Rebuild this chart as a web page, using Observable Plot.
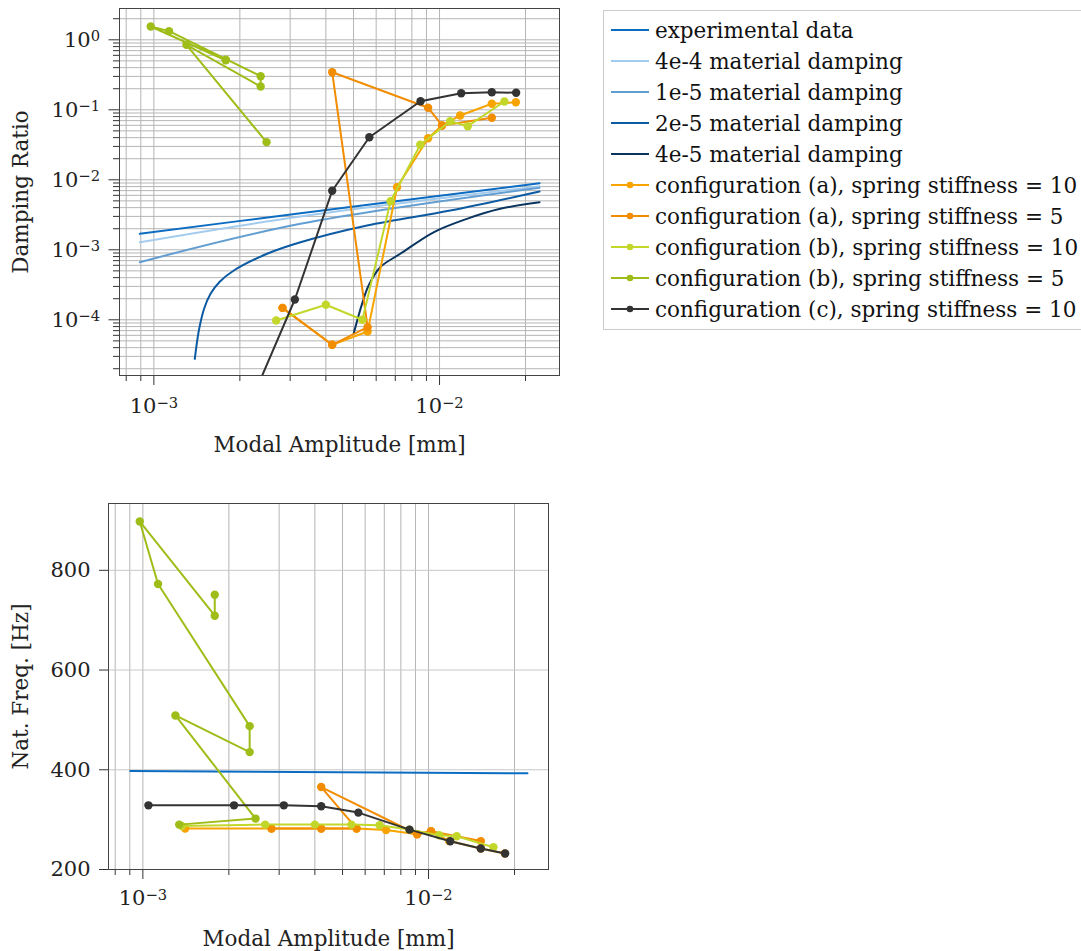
<!DOCTYPE html>
<html><head><meta charset="utf-8">
<script src="https://cdn.jsdelivr.net/npm/d3@7"></script>
<script src="https://cdn.jsdelivr.net/npm/@observablehq/plot@0.6"></script>
<style>
html,body{margin:0;padding:0;background:#fff;overflow:hidden;width:1081px;height:951px;}
#top{position:absolute;left:0;top:0;}
#bottom{position:absolute;left:0;top:470px;}
#legend{position:absolute;left:0;top:0;}
</style></head><body>
<div id="top"></div><div id="bottom"></div><div id="legend"></div>
<script>
// ---------------- data ----------------
// material damping curves (damping ratio vs modal amplitude [mm])
const expAmp   = [8.93e-4, 3.26e-3, 0.0224];
const expDamp  = [1.69e-3, 3.33e-3, 8.94e-3];
const m4e4Amp  = [8.93e-4, 3.26e-3, 0.0224];
const m4e4Damp = [1.28e-3, 2.99e-3, 8.10e-3];
const m1e5Amp  = [8.93e-4, 3.26e-3, 0.0224];
const m1e5Damp = [6.65e-4, 2.35e-3, 7.69e-3];
const m2e5Amp  = [1.391e-3, 1.437e-3, 1.50e-3, 1.579e-3, 1.70e-3, 1.905e-3, 2.491e-3, 3.26e-3, 5.574e-3, 0.0109, 0.0224];
const m2e5Damp = [2.77e-5, 7.03e-5, 1.45e-4, 2.35e-4, 3.5e-4, 5.06e-4, 8.77e-4, 1.28e-3, 2.22e-3, 3.64e-3, 6.81e-3];
const m4e5Amp  = [5.003e-3, 5.355e-3, 5.646e-3, 6.20e-3, 7.29e-3, 9.53e-3, 0.01247, 0.0163, 0.0224];
const m4e5Damp = [6.31e-5, 1.69e-4, 3.09e-4, 5.64e-4, 8.77e-4, 1.78e-3, 2.77e-3, 3.85e-3, 4.79e-3];
// experimental natural frequency
const expFreqAmp = [9.03e-4, 0.0222];
const expFreq    = [397.4, 392.8];

// configuration (a), spring stiffness = 10
const a10Amp  = [1.406e-3, 2.82e-3, 4.21e-3, 5.60e-3, 7.10e-3, 9.12e-3, 0.0102, 0.01181, 0.01524, 0.0185];
const a10Damp = [null, 1.48e-4, 4.39e-5, 6.8e-5, 7.84e-3, 0.0393, 0.0597, 0.0829, 0.122, 0.128];
const a10Freq = [282, 282, 282, 282, 279.3, 270.7, 276.7, 257, 242, 232];
// configuration (a), spring stiffness = 5
const a5Amp  = [2.82e-3, 4.21e-3, 5.60e-3, 4.21e-3, 9.12e-3, 0.0102, 0.01524];
const a5Damp = [1.48e-4, 4.39e-5, 7.84e-5, 0.344, 0.107, 0.0597, 0.0768];
const a5Freq = [282, 282, 282, 365.4, 270.7, 276.7, 257];
// configuration (b), spring stiffness = 10
const b10Amp  = [1.369e-3, 2.68e-3, 4.0e-3, 5.37e-3, 6.74e-3, 8.56e-3, 0.0109, 0.01255, 0.01687];
const b10Damp = [null, 9.77e-5, 1.64e-4, 1.0e-4, 4.94e-3, 0.0316, 0.0687, 0.0583, 0.1315];
const b10Freq = [287.3, 290, 290, 290, 288.7, 280, 268.7, 266.7, 244.6];
// configuration (b), spring stiffness = 5
const b5Amp  = [1.785e-3, 1.785e-3, 9.75e-4, 1.13e-3, 2.365e-3, 2.365e-3, 1.30e-3, 2.48e-3, 1.34e-3];
const b5Damp = [0.52, 0.51, 1.55, 1.33, 0.302, 0.215, 0.848, 0.0345, null];
const b5Freq = [751, 709, 898, 772.6, 487.5, 435.4, 508.9, 302.1, 290];
// configuration (c), spring stiffness = 10
const cAmp  = [1.046e-3, 2.085e-3, 3.115e-3, 4.21e-3, 5.678e-3, 8.58e-3, 0.01191, 0.01524, 0.01854];
const cDamp = [null, 4.3e-6, 1.95e-4, 6.97e-3, 0.0406, 0.1327, 0.1726, 0.1783, 0.175];
const cFreq = [328.7, 328.7, 328.7, 326.7, 314.1, 280, 256.7, 242, 232];

// tick labels
const xMajorTicks = [1e-3, 1e-2];
const yTopMajorTicks = [1e-4, 1e-3, 1e-2, 1e-1, 1];
const yBottomTicks = [200, 400, 600, 800];

const legendNames = ["experimental data", "4e-4 material damping", "1e-5 material damping",
  "2e-5 material damping", "4e-5 material damping",
  "configuration (a), spring stiffness = 10", "configuration (a), spring stiffness = 5",
  "configuration (b), spring stiffness = 10", "configuration (b), spring stiffness = 5",
  "configuration (c), spring stiffness = 10"];
const legendColors = ["#0c6cc2", "#a3cbee", "#639ed2", "#0c5aa2", "#0a3561",
  "#f7a400", "#f28c00", "#c3d72b", "#9fbd18", "#333333"];
const legendMarker = [false, false, false, false, false, true, true, true, true, true];

// ---------------- helpers ----------------
const zip = (xs, ys) => xs.map((x, i) => ({x, y: ys[i]}));
function minorTicks(lo, hi) {
  const out = [];
  for (let e = Math.floor(Math.log10(lo)); e <= Math.ceil(Math.log10(hi)); e++)
    for (let k = 1; k <= 9; k++) { const v = k * Math.pow(10, e); if (v >= lo && v <= hi) out.push(v); }
  return out;
}
const xDomain = [7.58e-4, 0.0263];
const yTopDomain = [1.6e-5, 2.8];
const xAll = minorTicks(xDomain[0], xDomain[1]);
const xMinor = xAll.filter(v => !xMajorTicks.some(m => Math.abs(m - v) / m < 1e-9));
const yAll = minorTicks(yTopDomain[0], yTopDomain[1]);
const yMinor = yAll.filter(v => !yTopMajorTicks.some(m => Math.abs(m - v) / m < 1e-9));
const fmtLog = d => "10^" + Math.round(Math.log10(d));
const FONT = "DejaVu Serif";
const gridColor = "#b5b5b5";
const LABEL_SIZE = "21.5px";
const TICK_SIZE = "21px";

function seriesMarks(data, color, withDots, clip, curve = "linear") {
  const marks = [Plot.line(data, {x: "x", y: "y", stroke: color, strokeWidth: 2, clip, curve})];
  if (withDots) marks.push(Plot.dot(data, {x: "x", y: "y", fill: color, r: 4.2, clip}));
  return marks;
}

function postProcess(svg, labels) {
  const ns = "http://www.w3.org/2000/svg";
  svg.querySelectorAll("text").forEach(t => {
    const m = /^10\^(-?\d+)$/.exec(t.textContent);
    if (m) {
      t.textContent = "";
      const a = document.createElementNS(ns, "tspan"); a.textContent = "10";
      const b = document.createElementNS(ns, "tspan"); b.textContent = m[1].replace("-", "\u2212");
      b.setAttribute("dy", "-0.4em"); b.setAttribute("font-size", "0.7em");
      t.append(a, b);
    } else if (labels.includes(t.textContent)) {
      t.setAttribute("font-size", LABEL_SIZE);
      t.style.fontSize = LABEL_SIZE;
    }
  });
}

// ---------------- top plot ----------------
const topPlot = Plot.plot({
  width: 570, height: 465,
  marginLeft: 119, marginRight: 11, marginTop: 8, marginBottom: 90,
  style: {fontFamily: FONT, fontSize: TICK_SIZE, color: "#222", background: "transparent"},
  x: {type: "log", domain: xDomain},
  y: {type: "log", domain: yTopDomain},
  marks: [
    Plot.gridX(xAll, {stroke: gridColor, strokeOpacity: 1}),
    Plot.gridY(yAll, {stroke: gridColor, strokeOpacity: 1}),
    Plot.axisX(xMinor, {tickSize: 6, tickFormat: () => "", label: null, stroke: "#333"}),
    Plot.axisX(xMajorTicks, {tickSize: 10, tickPadding: 13, tickFormat: fmtLog, stroke: "#333",
      label: "Modal Amplitude [mm]", labelAnchor: "center", labelOffset: 76, labelArrow: "none"}),
    Plot.axisY(yMinor, {tickSize: 6, tickFormat: () => "", label: null, stroke: "#333"}),
    Plot.axisY(yTopMajorTicks, {tickSize: 10.5, tickPadding: 9, tickFormat: fmtLog, stroke: "#333",
      label: "Damping Ratio", labelAnchor: "center", labelOffset: 107, labelArrow: "none"}),
    ...seriesMarks(zip(expAmp, expDamp), legendColors[0], false, true, "catmull-rom"),
    ...seriesMarks(zip(m4e4Amp, m4e4Damp), legendColors[1], false, true, "catmull-rom"),
    ...seriesMarks(zip(m1e5Amp, m1e5Damp), legendColors[2], false, true, "catmull-rom"),
    ...seriesMarks(zip(m2e5Amp, m2e5Damp), legendColors[3], false, true, "catmull-rom"),
    ...seriesMarks(zip(m4e5Amp, m4e5Damp), legendColors[4], false, true, "catmull-rom"),
    ...seriesMarks(zip(a10Amp, a10Damp), legendColors[5], true, true),
    ...seriesMarks(zip(a5Amp, a5Damp), legendColors[6], true, true),
    ...seriesMarks(zip(b10Amp, b10Damp), legendColors[7], true, true),
    ...seriesMarks(zip(b5Amp, b5Damp), legendColors[8], true, true),
    ...seriesMarks(zip(cAmp, cDamp), legendColors[9], true, true),
    Plot.frame({stroke: "#444", strokeWidth: 1})
  ]
});
postProcess(topPlot, ["Modal Amplitude [mm]", "Damping Ratio"]);
document.getElementById("top").append(topPlot);

// ---------------- bottom plot ----------------
const bottomPlot = Plot.plot({
  width: 560, height: 481,
  marginLeft: 108, marginRight: 12, marginTop: 33, marginBottom: 82,
  style: {fontFamily: FONT, fontSize: TICK_SIZE, color: "#222", background: "transparent"},
  x: {type: "log", domain: xDomain},
  y: {domain: [200, 934]},
  marks: [
    Plot.gridX(xAll, {stroke: gridColor, strokeOpacity: 1}),
    Plot.gridY(yBottomTicks, {stroke: "#c8c8c8", strokeOpacity: 1}),
    Plot.axisX(xMinor, {tickSize: 6, tickFormat: () => "", label: null, stroke: "#333"}),
    Plot.axisX(xMajorTicks, {tickSize: 10, tickPadding: 11, tickFormat: fmtLog, stroke: "#333",
      label: "Modal Amplitude [mm]", labelAnchor: "center", labelOffset: 76, labelArrow: "none"}),
    Plot.axisY(yBottomTicks, {tickSize: 9, tickPadding: 9, stroke: "#333",
      label: "Nat. Freq. [Hz]", labelAnchor: "center", labelOffset: 96, labelArrow: "none"}),
    ...seriesMarks(zip(expFreqAmp, expFreq), legendColors[0], false, false),
    ...seriesMarks(zip(a10Amp, a10Freq), legendColors[5], true, false),
    ...seriesMarks(zip(a5Amp, a5Freq), legendColors[6], true, false),
    ...seriesMarks(zip(b10Amp, b10Freq), legendColors[7], true, false),
    ...seriesMarks(zip(b5Amp, b5Freq), legendColors[8], true, false),
    ...seriesMarks(zip(cAmp, cFreq), legendColors[9], true, false),
    Plot.frame({stroke: "#444", strokeWidth: 1})
  ]
});
postProcess(bottomPlot, ["Modal Amplitude [mm]", "Nat. Freq. [Hz]"]);
document.getElementById("bottom").append(bottomPlot);

// ---------------- legend ----------------
const lg = d3.select("#legend").append("svg").attr("width", 1081).attr("height", 340)
  .style("font-family", FONT).style("font-size", LABEL_SIZE);
lg.append("rect").attr("x", 603.5).attr("y", 10.5).attr("width", 490).attr("height", 319)
  .attr("fill", "#fff").attr("stroke", "#cccccc");
legendNames.forEach((name, i) => {
  const cy = 30 + 31 * i;
  const g = lg.append("g");
  g.append("line").attr("x1", 611).attr("x2", 649).attr("y1", cy).attr("y2", cy)
    .attr("stroke", legendColors[i]).attr("stroke-width", 2);
  if (legendMarker[i]) g.append("circle").attr("cx", 630).attr("cy", cy).attr("r", 3.3).attr("fill", legendColors[i]);
  g.append("text").attr("x", 655).attr("y", cy).attr("dy", "0.35em").attr("fill", "#111").text(name);
});
</script>
</body></html>
